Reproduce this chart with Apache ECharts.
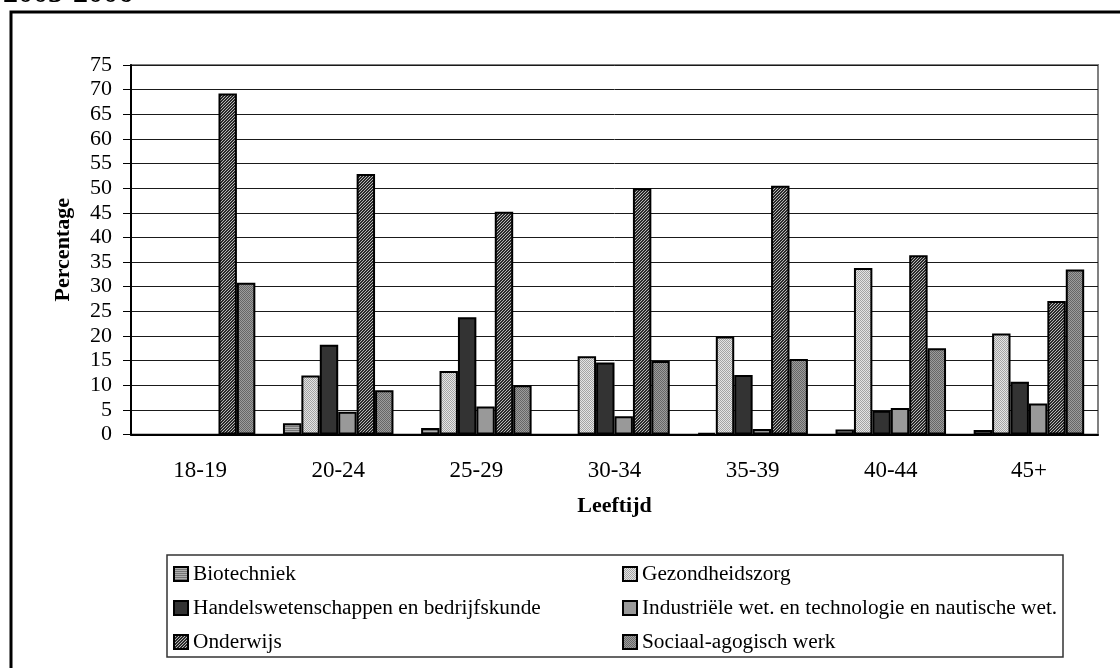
<!DOCTYPE html>
<html>
<head>
<meta charset="utf-8">
<script src="https://cdn.jsdelivr.net/npm/echarts@6/dist/echarts.min.js"></script>
<style>
  html, body { margin: 0; padding: 0; background: #fff; }
  #chart { width: 1120px; height: 668px; }
</style>
</head>
<body>
<div id="chart"></div>
<script>
const categories = ['18-19', '20-24', '25-29', '30-34', '35-39', '40-44', '45+'];
const biotechniek = [0, 2.3, 1.3, 0, 0.3, 1.0, 0.9];
const gezondheidszorg = [0, 12.0, 12.9, 15.9, 19.9, 33.8, 20.5];
const handelswetenschappen = [0, 18.2, 23.8, 14.6, 12.1, 4.8, 10.7];
const industriele = [0, 4.6, 5.7, 3.7, 1.1, 5.4, 6.3];
const onderwijs = [69.2, 52.9, 45.2, 50.0, 50.5, 36.4, 27.1];
const sociaal = [30.8, 9.0, 10.0, 14.9, 15.3, 17.5, 33.5];
const yTicks = [0, 75, 5]; // min, max, step

const font = 'Liberation Serif, Times New Roman, serif';

// small canvas fills to mimic the printed hatch patterns
function pattern(size, draw) {
    const c = document.createElement('canvas');
    c.width = size; c.height = size;
    draw(c.getContext('2d'));
    return { image: c, repeat: 'repeat' };
}
const fills = {
    bio: pattern(2, g => { g.fillStyle = '#767676'; g.fillRect(0, 0, 2, 2); g.fillStyle = '#b0b0b0'; g.fillRect(0, 1, 2, 1); }),
    gez: pattern(2, g => { g.fillStyle = '#e4e4e4'; g.fillRect(0, 0, 2, 2); g.fillStyle = '#a4a4a4'; g.fillRect(0, 0, 1, 1); g.fillRect(1, 1, 1, 1); }),
    han: '#333333',
    ind: '#999999',
    ond: pattern(3, g => {
        g.fillStyle = '#2a2a2a'; g.fillRect(0, 0, 3, 3);
        g.fillStyle = '#b8b8b8';
        for (let i = 0; i < 3; i++) g.fillRect((2 - i + 3) % 3, i, 1, 1);
    }),
    soc: pattern(2, g => { g.fillStyle = '#9c9c9c'; g.fillRect(0, 0, 2, 2); g.fillStyle = '#666'; g.fillRect(0, 0, 1, 1); g.fillRect(1, 1, 1, 1); })
};

function bar(name, data, fill) {
    return {
        name: name,
        type: 'bar',
        data: data.map(v => v === 0 ? '-' : v),
        barGap: '0%',
        barCategoryGap: '20%',
        itemStyle: { color: fill, borderColor: '#000', borderWidth: 2 }
    };
}

const chart = echarts.init(document.getElementById('chart'), null, { renderer: 'canvas' });

const legendText = { fontFamily: font, fontSize: 21.3, color: '#000', lineHeight: 24 };

const option = {
    animation: false,
    backgroundColor: '#fff',
    textStyle: { fontFamily: font },
    grid: {
        left: 131, top: 65, right: 22, bottom: 233.5,
        show: true, borderColor: '#808080', borderWidth: 2
    },
    legend: [
        {
            orient: 'vertical', left: 173, top: 562, itemGap: 10, padding: 0,
            itemWidth: 14, itemHeight: 14, icon: 'rect',
            data: ['Biotechniek', 'Handelswetenschappen en bedrijfskunde', 'Onderwijs'],
            textStyle: legendText
        },
        {
            orient: 'vertical', left: 622, top: 562, itemGap: 10, padding: 0,
            itemWidth: 14, itemHeight: 14, icon: 'rect',
            data: ['Gezondheidszorg', 'Industriële wet. en technologie en nautische wet.', 'Sociaal-agogisch werk'],
            textStyle: legendText
        }
    ],
    xAxis: {
        type: 'category',
        data: categories,
        name: 'Leeftijd',
        nameLocation: 'middle',
        nameGap: 61,
        nameTextStyle: { fontFamily: font, fontSize: 22, fontWeight: 'bold', color: '#000' },
        axisLine: { lineStyle: { color: '#000', width: 2 } },
        axisTick: { length: 8, lineStyle: { color: '#000', width: 1 } },
        axisLabel: { fontFamily: font, fontSize: 23, color: '#000', margin: 25 }
    },
    yAxis: {
        type: 'value',
        min: yTicks[0], max: yTicks[1], interval: yTicks[2],
        name: 'Percentage',
        nameLocation: 'middle',
        nameRotate: 90,
        nameGap: 57,
        nameTextStyle: { fontFamily: font, fontSize: 22, fontWeight: 'bold', color: '#000' },
        axisLine: { show: true, lineStyle: { color: '#000', width: 2 } },
        axisTick: { show: true, length: 8, lineStyle: { color: '#000', width: 1 } },
        axisLabel: { fontFamily: font, fontSize: 22, color: '#000', margin: 19 },
        splitLine: { lineStyle: { color: '#1a1a1a', width: 1 } }
    },
    series: [
        bar('Biotechniek', biotechniek, fills.bio),
        bar('Gezondheidszorg', gezondheidszorg, fills.gez),
        bar('Handelswetenschappen en bedrijfskunde', handelswetenschappen, fills.han),
        bar('Industriële wet. en technologie en nautische wet.', industriele, fills.ind),
        bar('Onderwijs', onderwijs, fills.ond),
        bar('Sociaal-agogisch werk', sociaal, fills.soc)
    ],
    graphic: [
        {
            type: 'rect', silent: true, z: -1,
            shape: { x: 11, y: 12, width: 1300, height: 800 },
            style: { fill: 'none', stroke: '#000', lineWidth: 3 }
        },
        {
            type: 'rect', silent: true,
            shape: { x: 167, y: 555, width: 896, height: 102 },
            style: { fill: 'none', stroke: '#333', lineWidth: 1.5 }
        },
        {
            type: 'text', silent: true, x: 3, y: -21,
            style: { text: '2005-2006', font: 'bold 30px ' + font, fill: '#000', verticalAlign: 'top' }
        }
    ]
};

chart.setOption(option);
</script>
</body>
</html>
